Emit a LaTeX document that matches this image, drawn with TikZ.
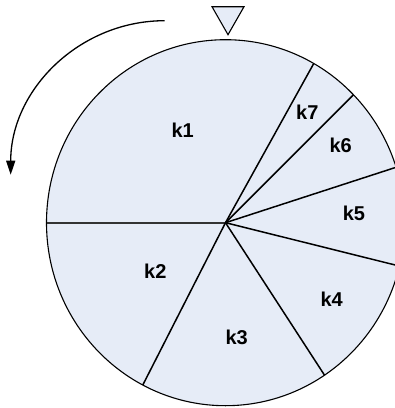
\documentclass[tikz,border=0pt]{standalone}
\usepackage{fontspec}
\setmainfont{Liberation Sans}
\usepackage{xcolor}
\usetikzlibrary{positioning,arrows.meta,calc,shapes.geometric}

\definecolor{sliceblue}{RGB}{230,236,247}

\begin{document}
\begin{tikzpicture}[
  x=1pt, y=1pt,
  wheel/.style={draw, ellipse, fill=sliceblue, line width=1.1pt, inner sep=0pt, outer sep=0pt, minimum width=358pt, minimum height=366pt},
  spoke/.style={line width=1.5pt},
  seat/.style={font=\bfseries\fontsize{20}{20}\selectfont},
  pointer/.style={draw, fill=sliceblue, line width=1.1pt, line join=miter},
  turn/.style={-{Triangle[length=14pt, width=9pt]}, line width=1.3pt}
]
  \useasboundingbox (0,0) rectangle (395,-408);
  \node[wheel] (wheel) at (225.5,-222.7) {};

  % slice borders
  \draw[spoke, line width=2.2pt, draw=black!80] (wheel.center) -- (wheel.180);
  \foreach \a in {61.8,45.9,18.8,-14.1,-57.5,243.3}
    \draw[spoke] (wheel.center) -- (wheel.\a);

  \node[seat] (k1) at (182.7,-130) {k1};
  \node[seat] (k2) at (155.3,-271.7) {k2};
  \node[seat] (k3) at (236.7,-337.7) {k3};
  \node[seat] (k4) at (331.7,-299) {k4};
  \node[seat] (k5) at (354,-213.3) {k5};
  \node[seat] (k6) at (340.7,-145.3) {k6};
  \node[seat] (k7) at (307.3,-112.7) {k7};

  % pointer and direction
  \coordinate (tl) at (212,-6.7);
  \coordinate (tr) at (244,-6.7);
  \coordinate (tip) at (228,-34.7);
  \draw[pointer] (tl) -- (tr) -- (tip) -- cycle;
  \coordinate (spin) at (164.7,-20.7);
  \draw[turn] (spin) arc[start angle=90, end angle=180, radius=154];
\end{tikzpicture}
\end{document}
